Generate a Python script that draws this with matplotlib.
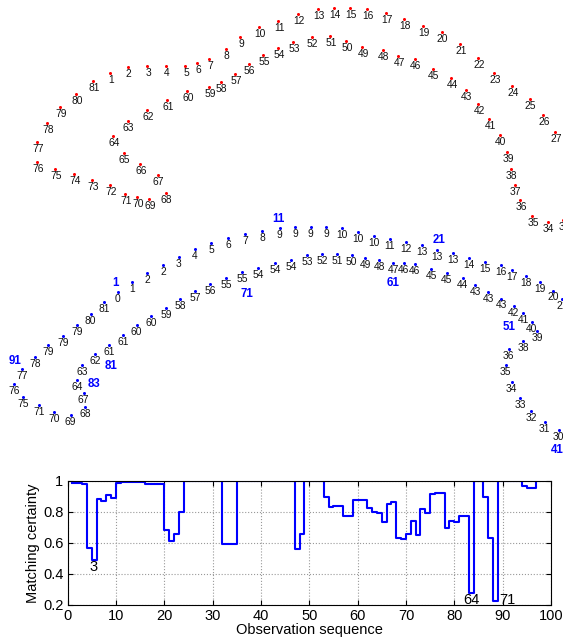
import numpy as np
import matplotlib
matplotlib.use('Agg')
import matplotlib.pyplot as plt

plt.rcParams['font.family'] = ['Liberation Sans', 'DejaVu Sans']

# road network nodes (map coords, y grows downward)
node_id = list(range(1, 29)) + list(range(33, 82))
node_x = [110, 127.7, 147, 166, 185.3, 197.3, 209.3, 225.7, 240, 258.7,
          278.3, 297.7, 318, 334, 350.3, 366.7, 386, 404.3, 423.3, 441.7,
          460.3, 478, 494, 511.7, 529.5, 543, 555, 565,
          563, 547.7, 532.3, 520.3, 514.7, 510.7, 507.3, 499.7, 489, 478,
          465.7, 451.3, 432.7, 414.7, 398.3, 382.7, 362, 346, 330.3, 311.7,
          293.3, 278.3, 263.3, 248.7, 235.3, 220.7, 209.3, 187.3, 167, 147,
          127.7, 113, 123.7, 140.3, 157.7, 165.7, 149, 137, 125, 110.3,
          92, 73.7, 55, 37.3, 36.7, 47, 60.3, 76, 93.3]
node_y = [72.7, 67.3, 66, 66, 65.7, 62.7, 59, 49, 37, 27.3,
          20.7, 13.7, 8.7, 8, 8, 9, 13.3, 19.3, 25.7, 32.3,
          44.3, 57.7, 72.7, 86, 99, 115, 132, 152,
          220, 222, 216, 200, 184.7, 168.7, 152, 134.7, 119.3, 104.3,
          90, 78.3, 69.3, 59.3, 55.7, 50, 46.7, 41.3, 35.7, 37,
          41.7, 48.3, 54.7, 63.7, 74, 82.3, 86.7, 91.3, 99.7, 109.7,
          120.7, 136.3, 152.7, 164.3, 175.3, 192.7, 199.3, 197.3, 193.7, 185.3,
          179.7, 174, 169.3, 162, 141.7, 123.3, 107.3, 93.7, 81]

# GPS observations (obs 31-40 run off the right edge)
obs_id = list(range(1, 31)) + list(range(41, 98))
obs_x = [117.7, 132.3, 147.3, 163, 178.7, 194.7, 211, 228, 245, 262.3,
         279.7, 295.3, 310.7, 326.3, 342, 358, 373.7, 389.7, 405.7, 421.7,
         437.3, 453.3, 469, 484.8, 500.8, 512.3, 526.3, 540.3, 553, 562,
         558.5, 544.5, 531.2, 520, 511.5, 505.8, 508.7, 523.2, 537, 532,
         523.2, 514, 501.2, 488.2, 475.2, 462.7, 446.7, 431, 414.7, 404,
         393, 379.3, 365.3, 351.7, 337, 322.3, 307.3, 291, 275, 258.3,
         242, 226.3, 210.3, 195.3, 180.3, 166, 151, 136.7, 122.7, 109,
         95.3, 82.3, 76.7, 83.7, 85, 70.7, 54, 38.7, 23.3, 14,
         22.3, 34.7, 48.3, 62.7, 76.7, 90.7, 104.3]
obs_y = [292, 281.7, 272.7, 265, 257.3, 249.3, 243, 238, 233.7, 231.3,
         228, 227.3, 227.3, 227.3, 228.3, 232, 235.7, 239.3, 242, 245.3,
         249.7, 253.3, 257.7, 262.2, 265.2, 269.5, 276.2, 282.2, 290.5, 299.3,
         430.2, 422.3, 411, 397.8, 382.2, 365.3, 348.7, 341, 331, 322,
         313.2, 305.8, 298.5, 291.8, 285.3, 278, 272.7, 268.7, 264, 262.7,
         262.7, 260, 258.3, 255, 254.3, 254.3, 255.3, 260, 263.3, 268,
         272.3, 278, 284.3, 291, 299.3, 308, 316, 325.3, 334.7, 344.7,
         354.3, 365, 380.3, 392.7, 406.7, 415, 411.7, 405, 397.3, 384,
         369.3, 356.7, 345.3, 335.7, 325, 314.3, 302.3]
obs_match = [0, 1, 2, 2, 3, 4, 5, 6, 7, 8,
             9, 9, 9, 9, 10, 10, 10, 11, 12, 13,
             13, 13, 14, 15, 16, 17, 18, 19, 20, 21,
             30, 31, 32, 33, 34, 35, 36, 38, 39, 40,
             41, 42, 43, 43, 43, 44, 45, 45, 46, 46,
             47, 48, 49, 50, 51, 52, 53, 54, 54, 54,
             55, 55, 56, 57, 58, 59, 60, 60, 61, 61,
             62, 63, 64, 67, 68, 69, 70, 71, 75, 76,
             77, 78, 79, 79, 79, 80, 81]

# observation numbers written in blue, with their offset from the dot (px, down)
mark_obs = [1, 11, 21, 41, 51, 61, 71, 81, 83, 91]
mark_dx = [-2, -1.4, 2, -1.4, -13.7, 0.3, 4.7, 15.4, 17.3, -7.6]
mark_dy = [-9.3, -9, -9.4, 20, 13.4, 20, 21.7, 11.4, 4, -8.3]

# matching certainty per observation
certainty = [0.985, 0.985, 0.98, 0.57, 0.49, 0.88, 0.87, 0.905, 0.89, 0.985,
             0.99, 0.99, 0.99, 0.99, 0.99, 0.98, 0.98, 0.98, 0.98, 0.685,
             0.615, 0.66, 0.80, 1.0, 1.0, 1.0, 1.0, 1.0, 1.0, 1.0,
             1.0, 0.595, 0.595, 0.59, 0.995, 0.995, 0.995, 0.995, 0.995, 0.995,
             0.995, 0.995, 0.995, 1.0, 1.0, 1.0, 0.56, 0.66, 1.0, 1.0,
             1.0, 1.0, 0.893, 0.83, 0.835, 0.835, 0.773, 0.773, 0.876, 0.876,
             0.876, 0.824, 0.80, 0.795, 0.732, 0.85, 0.865, 0.633, 0.623, 0.657,
             0.739, 0.653, 0.82, 0.794, 0.916, 0.918, 0.918, 0.694, 0.743, 0.736,
             0.773, 0.773, 0.275, 1.0, 1.0, 0.893, 0.629, 0.228, 1.0, 1.0,
             1.0, 1.0, 1.0, 0.966, 0.95, 0.95, 1.0]
low_x = [5.4, 83.5, 89.2]
low_y = [0.447, 0.232, 0.232]
low_lbl = ['3', '64', '71']
low_ha = ['center', 'center', 'left']

W, H = 563, 641
fig = plt.figure(figsize=(W / 100, H / 100), dpi=100)

# map: road nodes (red) and matched observations (blue)
ax = fig.add_axes([0, 1 - 460 / H, 1, 460 / H])
ax.set_xlim(0, W)
ax.set_ylim(460, 0)
ax.axis('off')

ax.plot(node_x, node_y, 'o', color='#ff0000', ms=2.2, mew=0)
for n, x, y in zip(node_id, node_x, node_y):
    ax.annotate(str(n), (x, y), xytext=(1, -7), textcoords='offset pixels',
                ha='center', va='center', fontsize=7.4, color='#111111')

ax.plot(obs_x, obs_y, 'o', color='#0000ff', ms=2.2, mew=0)
for m, x, y in zip(obs_match, obs_x, obs_y):
    ax.annotate(str(m), (x, y), xytext=(0, -7), textcoords='offset pixels',
                ha='center', va='center', fontsize=7.4, color='#111111')

for k, dx, dy in zip(mark_obs, mark_dx, mark_dy):
    i = obs_id.index(k)
    ax.annotate(str(k), (obs_x[i], obs_y[i]), xytext=(dx, -dy),
                textcoords='offset pixels', ha='center', va='center',
                fontsize=8.3, fontweight='bold', color='#0000ff')

# matching certainty
ax2 = fig.add_axes([67.6 / W, 1 - 605 / H, (551 - 67.6) / W, (605 - 480.7) / H])
obs = np.arange(1, len(certainty) + 1)
ax2.step(obs, certainty, where='post', color='#0000ff', lw=1.5)
for x, y, s, ha in zip(low_x, low_y, low_lbl, low_ha):
    ax2.text(x, y, s, ha=ha, va='center', fontsize=10.5)
ax2.set_xlim(0, 100)
ax2.set_ylim(0.2, 1)
ax2.set_xticks(range(0, 101, 10))
ax2.set_yticks([0.2, 0.4, 0.6, 0.8, 1])
ax2.set_yticklabels(['0.2', '0.4', '0.6', '0.8', '1'])
ax2.grid(True, linestyle=':', color='#999999', lw=0.8)
ax2.tick_params(direction='in', top=True, right=True, labelsize=10.5, pad=3)
ax2.set_xlabel('Observation sequence', fontsize=10.5, labelpad=0)
ax2.set_ylabel('Matching certainty', fontsize=10.5, labelpad=2)

plt.savefig('out.png', dpi=100)
